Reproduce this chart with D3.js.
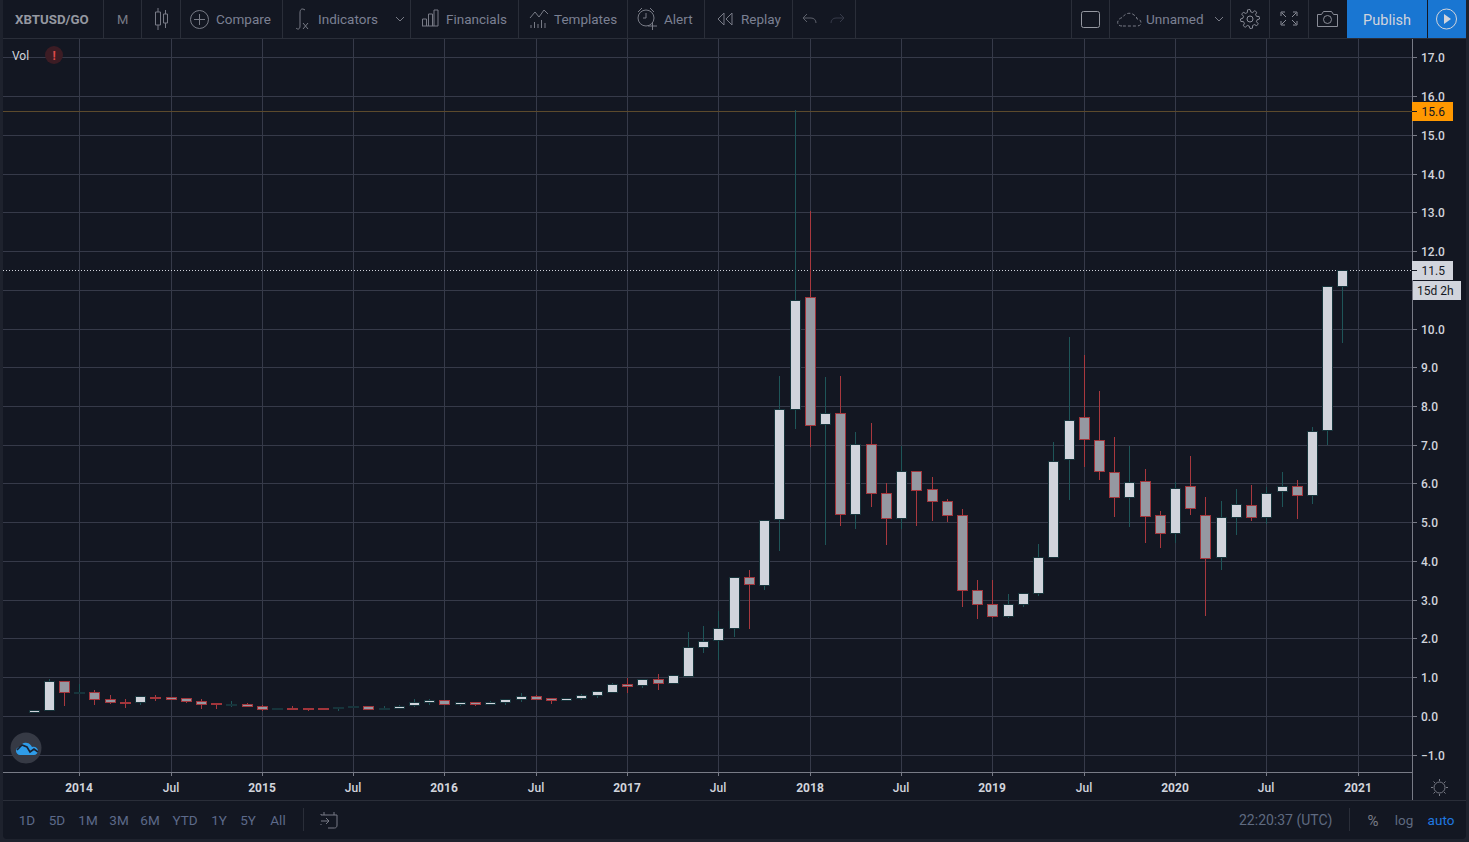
<!DOCTYPE html>
<html><head><meta charset="utf-8">
<script src="https://cdn.jsdelivr.net/npm/d3@7/dist/d3.min.js"></script>
<style>
html,body{margin:0;padding:0;background:#1e222d;overflow:hidden}
svg{display:block}
text{font-family:Roboto,"Liberation Sans",sans-serif}
</style></head><body><svg id="c" width="1469" height="842"></svg>
<script>
const months=["2013-10","2013-11","2013-12",
"2014-01","2014-02","2014-03","2014-04","2014-05","2014-06","2014-07","2014-08","2014-09","2014-10","2014-11","2014-12",
"2015-01","2015-02","2015-03","2015-04","2015-05","2015-06","2015-07","2015-08","2015-09","2015-10","2015-11","2015-12",
"2016-01","2016-02","2016-03","2016-04","2016-05","2016-06","2016-07","2016-08","2016-09","2016-10","2016-11","2016-12",
"2017-01","2017-02","2017-03","2017-04","2017-05","2017-06","2017-07","2017-08","2017-09","2017-10","2017-11","2017-12",
"2018-01","2018-02","2018-03","2018-04","2018-05","2018-06","2018-07","2018-08","2018-09","2018-10","2018-11","2018-12",
"2019-01","2019-02","2019-03","2019-04","2019-05","2019-06","2019-07","2019-08","2019-09","2019-10","2019-11","2019-12",
"2020-01","2020-02","2020-03","2020-04","2020-05","2020-06","2020-07","2020-08","2020-09","2020-10","2020-11","2020-12"];
const opens=[.11,.15,.89,.62,.63,.44,.37,.35,.49,.49,.46,.38,.33,.28,.31,
.26,.18,.21,.20,.20,.20,.22,.25,.19,.21,.27,.35,
.41,.32,.37,.32,.35,.43,.52,.46,.42,.45,.53,.63,
.83,.79,.95,.86,1.04,1.78,1.96,2.28,3.59,3.39,5.09,7.92,
10.81,7.53,7.82,5.22,7.02,5.76,5.11,6.32,5.86,5.55,5.19,3.26,
2.90,2.58,2.90,3.18,4.11,6.64,7.72,7.13,6.30,5.65,6.07,5.19,
4.72,5.94,5.19,4.11,5.13,5.45,5.13,5.81,5.94,5.70,7.38,11.10];
const highs=[.16,.96,.89,.82,.67,.55,.44,.52,.55,.49,.46,.44,.33,.38,.33,
.27,.20,.26,.21,.20,.23,.25,.25,.25,.29,.44,.44,
.41,.37,.37,.39,.44,.60,.55,.46,.46,.57,.64,.86,
.99,.95,1.09,1.05,2.17,2.33,2.70,3.59,3.76,5.05,8.78,15.64,
13.03,8.76,8.78,7.34,7.57,6.00,6.96,6.32,6.18,5.59,5.33,3.52,
3.52,3.16,3.18,4.45,7.06,9.77,9.31,8.38,7.19,6.98,6.37,5.28,
6.05,6.70,5.64,5.54,5.87,5.95,5.90,6.29,6.08,7.47,11.10,11.52];
const lows=[.10,.15,.29,.60,.32,.33,.24,.32,.40,.43,.36,.21,.21,.25,.25,
.15,.18,.18,.16,.17,.16,.22,.17,.18,.20,.25,.32,
.32,.29,.29,.32,.32,.39,.44,.34,.42,.44,.50,.63,
.62,.75,.70,.86,1.04,1.64,1.47,2.06,2.26,3.27,4.28,7.42,
6.96,4.43,4.94,4.86,5.43,4.45,4.86,4.94,5.07,5.02,2.83,2.52,
2.56,2.55,2.85,3.12,4.11,5.59,6.44,6.11,5.15,4.89,4.48,4.35,
4.48,5.20,2.60,3.78,4.69,5.05,4.99,5.41,5.12,5.49,7.03,9.64];
const closes=[.15,.89,.61,.63,.43,.35,.33,.51,.47,.44,.38,.30,.30,.32,.25,
.17,.20,.19,.19,.17,.23,.25,.19,.21,.25,.36,.41,
.32,.37,.32,.37,.44,.51,.44,.42,.46,.54,.64,.82,
.78,.95,.85,1.05,1.79,1.94,2.26,3.59,3.40,5.05,7.92,10.73,
7.50,7.82,5.22,7.02,5.75,5.10,6.32,5.83,5.54,5.18,3.26,2.89,
2.58,2.90,3.18,4.11,6.59,7.65,7.15,6.33,5.65,6.05,5.16,4.72,
5.89,5.37,4.08,5.14,5.48,5.13,5.76,5.94,5.70,7.36,11.10,11.52];
const priceTicks=[-1,0,1,2,3,4,5,6,7,8,9,10,11,12,13,14,15,16,17];
const hiddenPriceLabels=[11];
const timeTicks=["2014-01","2014-07","2015-01","2015-07","2016-01","2016-07","2017-01","2017-07","2018-01","2018-07","2019-01","2019-07","2020-01","2020-07","2021-01"];
const timeLabels=["2014","Jul","2015","Jul","2016","Jul","2017","Jul","2018","Jul","2019","Jul","2020","Jul","2021"];
const lastPrice=11.52, highPrice=15.62;
const rangeButtons=["1D","5D","1M","3M","6M","YTD","1Y","5Y","All"];

const BG="#131722",GRID="#363a49",AXIS="#787b86",SEP="#2a2e39",TXT="#7b8092",TICK="#d1d4dc";
const svg=d3.select("#c");
svg.append("rect").attr("x",3).attr("y",-6).attr("width",1463).attr("height",845).attr("rx",4).attr("fill",BG);

const monthIndex=s=>{const [a,b]=s.split("-").map(Number);return (a-2013)*12+b-10;};
const x=d3.scaleLinear().domain([0,months.length-1]).range([33.55,1342.47]).interpolate(d3.interpolateRound);
const y=d3.scaleLinear().domain([-1,17]).range([754.66,57.34]).interpolate(d3.interpolateRound);
const L=3,R=1412,T=39,B=772;

// grid + axes
const gy=svg.append("g").attr("transform",`translate(${L},0)`)
 .call(d3.axisRight(y).tickValues(priceTicks).tickSize(R-L).tickFormat(""));
gy.select(".domain").remove();gy.selectAll("line").attr("stroke",GRID);
const gx=svg.append("g").attr("transform",`translate(0,${T})`)
 .call(d3.axisBottom(x).tickValues(timeTicks.map(monthIndex)).tickSize(B-T).tickFormat(""));
gx.select(".domain").remove();gx.selectAll("line").attr("stroke",GRID);

const ay=svg.append("g").attr("transform",`translate(${R},0)`)
 .call(d3.axisRight(y).tickValues(priceTicks).tickSize(5).tickPadding(5)
 .tickFormat(d=>hiddenPriceLabels.includes(d)?"":(d<0?"\u2212":"")+Math.abs(d).toFixed(1)));
ay.select(".domain").remove();ay.selectAll("line").attr("stroke",AXIS);
ay.selectAll("text").attr("fill",TICK).attr("font-size",12).attr("font-weight",500).attr("font-family","Roboto")
 .attr("dx",-1).attr("dy","1.32em").attr("transform","translate(0,-11)");
const ax=svg.append("g").attr("transform",`translate(-0.5,${B})`)
 .call(d3.axisBottom(x).tickValues(timeTicks.map(monthIndex)).tickSize(4).tickPadding(7)
 .tickFormat((d,i)=>timeLabels[i]));
ax.select(".domain").remove();ax.selectAll("line").attr("stroke",AXIS).attr("transform","translate(0.5,0)");
ax.selectAll("text").attr("fill",TICK).attr("font-size",12).attr("font-family","Roboto")
 .attr("font-weight",(d,i)=>timeLabels[i]==="Jul"?500:700);

// frame lines
const hl=(a,b,yy,c)=>svg.append("line").attr("x1",a).attr("x2",b).attr("y1",yy+.5).attr("y2",yy+.5).attr("stroke",c);
const vl=(xx,a,b,c)=>svg.append("line").attr("x1",xx+.5).attr("x2",xx+.5).attr("y1",a).attr("y2",b).attr("stroke",c);
hl(3,1466,38,SEP);hl(3,1412,772,AXIS);hl(3,1466,800,SEP);vl(1412,39,800,AXIS);

// price lines
svg.append("line").attr("x1",L).attr("x2",R).attr("y1",y(highPrice)+.5).attr("y2",y(highPrice)+.5).attr("stroke","#5c4a2c");
svg.append("line").attr("x1",L).attr("x2",R).attr("y1",y(lastPrice)+.5).attr("y2",y(lastPrice)+.5).attr("stroke","#d1d4dc").attr("stroke-dasharray","1 2");

// candles
const idx=d3.range(months.length);
const g=svg.append("g");
g.selectAll("line").data(idx).join("line")
 .attr("x1",i=>x(i)+.5).attr("x2",i=>x(i)+.5)
 .attr("y1",i=>y(highs[i])).attr("y2",i=>y(lows[i])+1)
 .attr("stroke",i=>closes[i]>=opens[i]?"#1e5558":"#a8383e");
g.selectAll("rect").data(idx).join("rect")
 .attr("x",i=>x(i)-4.5).attr("width",10)
 .attr("y",i=>Math.min(y(opens[i]),y(closes[i]))+.5)
 .attr("height",i=>Math.max(1,Math.abs(y(opens[i])-y(closes[i]))))
 .attr("fill",i=>closes[i]>=opens[i]?"#d1d4dc":"#9598a1")
 .attr("stroke",i=>closes[i]>=opens[i]?"#17343b":"#a2353b");

// price labels
function tag(x0,y0,w,h,fill,label,tx,color){
 svg.append("rect").attr("x",x0).attr("y",y0).attr("width",w).attr("height",h).attr("fill",fill);
 svg.append("text").attr("x",tx).attr("y",y0+h/2+4.5).attr("font-size",12).attr("fill",color).text(label);
}
tag(1412,102,41,19,"#ff9800",highPrice.toFixed(1),1421.5,"#131722");
svg.append("line").attr("x1",1412).attr("x2",1417).attr("y1",y(highPrice)+.5).attr("y2",y(highPrice)+.5).attr("stroke","#131722");
tag(1412,261,41,19,"#d1d4dc",lastPrice.toFixed(1),1421.5,"#131722");
svg.append("line").attr("x1",1412).attr("x2",1417).attr("y1",y(lastPrice)+.5).attr("y2",y(lastPrice)+.5).attr("stroke","#131722");
tag(1413,281,48,19,"#d1d4dc","15d 2h",1417,"#131722");

// toolbar
const txt=(s,xx,yy,c,sz,w,anchor)=>svg.append("text").attr("x",xx).attr("y",yy).attr("fill",c||TXT).attr("font-size",sz||13.5).attr("font-weight",w||400).attr("text-anchor",anchor||"start").text(s);
[103,141,180,282,410,518,627,704,792,855,1071,1109,1230,1269,1308].forEach(s=>vl(s,0,38,SEP));
txt("XBTUSD/GO",15,24,"#9598a1",13.3,700);
txt("M",117,24,"#787b86",13,400);
txt("Compare",216,24);txt("Indicators",318,24);txt("Financials",446,24);txt("Templates",554,24);txt("Alert",664,24);txt("Replay",741,24);txt("Unnamed",1146,24);
svg.append("rect").attr("x",1347).attr("y",0).attr("width",80).attr("height",38).attr("fill","#1976d2");
svg.append("rect").attr("x",1428).attr("y",0).attr("width",38).attr("height",38).attr("fill","#1976d2");
txt("Publish",1387,24.5,"#d1d4dc",14.5,400,"middle");
const ic=(d,c,extra)=>{const p=svg.append("path").attr("d",d).attr("fill","none").attr("stroke",c||"#787b86").attr("stroke-width",1);if(extra)p.attr("stroke-dasharray",extra);return p;};
// candle icon
ic("M155.5 12h5v13h-5zM158 8v4M158 25v5M163.5 14h4v9h-4zM165.5 10v4M165.5 23v5");
// compare
svg.append("circle").attr("cx",199.5).attr("cy",19.5).attr("r",9).attr("fill","none").attr("stroke","#787b86");
ic("M199.5 14v11M194 19.5h11");
// indicators fx
ic("M305 10c-3-2-5-1-5 3v13c0 3-2 4-4 2");
ic("M303 23l5 6M308 23l-5 6");
ic("M396 17l4 4 4-4");
// financials
ic("M422 26h16M422.5 26v-7h4v7M428.5 26v-12h4v12M434 26V10h4v16");
// templates
ic("M530 18l5-6 4 5 5-7 4 4");
ic("M531 28v-3M534.500 28v-6M538 28v-4M541.500 28v-8M545 28v-5");
// alert
svg.append("circle").attr("cx",646).attr("cy",18).attr("r",8).attr("fill","none").attr("stroke","#787b86");
ic("M646 13v5h-3M638 12l4-4M654 12l-4-4M648 26h9M652.500 22v8");
// replay
ic("M724 13l-6 6 6 6zM732 13l-6 6 6 6z");
// undo redo
ic("M807 14l-4 4 4 4M803 18h8c3 0 5 2 5 5","#5d606b");
ic("M840 14l4 4-4 4M844 18h-8c-3 0-5 2-5 5","#363a49");
// square
svg.append("rect").attr("x",1081.5).attr("y",11.5).attr("width",18).attr("height",16).attr("rx",2).attr("fill","none").attr("stroke","#9598a1");
// cloud
ic("M1122 26c-4 0-5-3-4-5 1-3 4-3 5-4 2-4 8-5 11-2 2 1 3 3 3 4 3 0 4 2 4 4s-2 3-4 3z","#787b86","3 2");
ic("M1215 17l4 4 4-4");
// gear
const cog=d3.range(48).map(i=>{const a=i/48*2*Math.PI,k=i%6;const r=(k===0||k===1||k===5)?9.5:7;return [1250+r*Math.cos(a-.13),19+r*Math.sin(a-.13)];});
ic(d3.line().curve(d3.curveLinearClosed)(cog),"#8a8d98");
svg.append("circle").attr("cx",1250).attr("cy",19).attr("r",3).attr("fill","none").attr("stroke","#8a8d98");
// fullscreen
ic("M1281 16v-4h4M1297 16v-4h-4M1281 21v4h4M1297 21v4h-4M1282 13l4 4M1296 13l-4 4M1282 24l4-4M1296 24l-4-4","#8a8d98");
// camera
ic("M1317.5 14.5h4l2-3h8l2 3h4v12h-20z","#8a8d98");
svg.append("circle").attr("cx",1327.5).attr("cy",19.5).attr("r",4).attr("fill","none").attr("stroke","#8a8d98");
// play
svg.append("circle").attr("cx",1446.5).attr("cy",19).attr("r",10).attr("fill","none").attr("stroke","#d1d4dc");
svg.append("path").attr("d","M1444 14l7 5-7 5z").attr("fill","#d1d4dc");

// Vol legend
txt("Vol",12,60,"#d1d4dc",12,400);
svg.append("circle").attr("cx",54).attr("cy",55).attr("r",9).attr("fill","#3c1c24");
txt("!",54,59.5,"#e04a4a",12,700,"middle");

// logo
svg.append("circle").attr("cx",26).attr("cy",748).attr("r",15.5).attr("fill","#363a45");
svg.append("path").attr("d","M16 751c0-3 2-4 4-4 1-3 4-5 7-4 2 0 4 2 5 4 3-1 6 1 6 4 0 2-2 4-4 4H20c-2 0-4-2-4-4z").attr("fill","#2f9ce8");
ic("M17 750l5-5 5 2 3 5 4-3 4 3","#1b2230").attr("stroke-width",1.6);

// gear bottom right
svg.append("circle").attr("cx",1439.5).attr("cy",787.5).attr("r",5.5).attr("fill","none").attr("stroke","#787b86");
ic("M1439.5 779v2M1439.5 794v2M1431 787.5h2M1446 787.5h2M1433.5 781.5l1.5 1.5M1444 792l1.5 1.5M1433.5 793.5l1.5-1.5M1444 783l1.5-1.5");

// bottom bar
const rbx=[27,57,88,119,150,185,219,248,278];
rangeButtons.forEach((s,i)=>txt(s,rbx[i],825,"#5d6a8a",13.5,400,"middle"));
vl(303,808,831,SEP);
ic("M321 815h16v10c0 3-2 3-3 3h-6M321 815v-1M324 812v3M334 812v3M321 821h8M326 818l3 3-3 3M321 824v1","#787b86");
txt("22:20:37 (UTC)",1239,825,"#5f6a80",14);
vl(1349,808,831,SEP);
txt("%",1373,826,"#787b86",15,400,"middle");
txt("log",1404,825,"#5f6a80",13.5,400,"middle");
txt("auto",1441,825,"#2079e0",13.5,400,"middle");
</script></body></html>
